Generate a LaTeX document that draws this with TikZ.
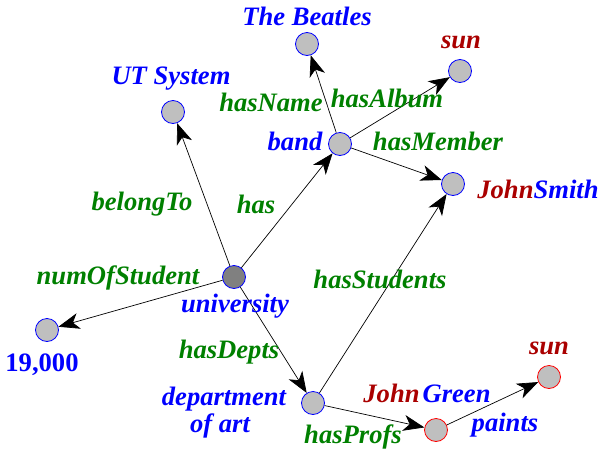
\documentclass[tikz,border=0pt]{standalone}
\usepackage{fontspec}
\setmainfont{Liberation Serif}
\usetikzlibrary{arrows.meta}
\definecolor{dred}{RGB}{170,0,0}
\definecolor{dgreen}{RGB}{0,128,0}
\definecolor{nblue}{RGB}{0,0,255}
\begin{document}
\begin{tikzpicture}[x=1pt,y=-1pt,
  res/.style={circle,draw=nblue,fill=black!25,line width=0.8pt,minimum size=23pt,inner sep=0pt},
  resred/.style={res,draw=red},
  lbl/.style={anchor=base,inner sep=0pt,font=\fontsize{26.6}{28}\selectfont\bfseries\itshape},
  blbl/.style={lbl,text=nblue},
  glbl/.style={lbl,text=dgreen},
  rlbl/.style={lbl,text=dred},
  edge/.style={-{Stealth[length=21pt,width=16pt,inset=6pt]},line width=0.7pt}]
\useasboundingbox (0,0) rectangle (600,453);
% nodes
\node[res] (ut) at (173,112) {};
\node[res] (beatles) at (307,44) {};
\node[res] (sun1) at (460,71) {};
\node[res] (band) at (340,144) {};
\node[res] (smith) at (453,184) {};
\node[res,fill=black!50] (univ) at (234,277) {};
\node[res] (num) at (47,330) {};
\node[res] (dept) at (313,403) {};
\node[resred] (green) at (436,430) {};
\node[resred] (sun2) at (549,377) {};
% edges
\draw[edge] (univ) -- (ut);
\draw[edge] (univ) -- (band);
\draw[edge] (univ) -- (num);
\draw[edge] (univ) -- (dept);
\draw[edge] (band) -- (beatles);
\draw[edge] (band) -- (sun1);
\draw[edge] (band) -- (smith);
\draw[edge] (dept) -- (smith);
\draw[edge] (dept) -- (green);
\draw[edge] (green) -- (sun2);
% labels
\node[blbl] (tBeatles) at (307,25) {The Beatles};
\node[blbl] (tUT) at (171,84) {UT System};
\node[rlbl] (tSun1) at (461,48) {sun};
\node[glbl] (tHasName) at (271,111) {hasName};
\node[glbl] (tHasAlbum) at (387,107) {hasAlbum};
\node[blbl] (tBand) at (295,150) {band};
\node[glbl] (tHasMember) at (438,150) {hasMember};
\node[lbl] (tSmith) at (538,198) {\textcolor{dred}{John}\textcolor{nblue}{Smith}};
\node[glbl] (tBelong) at (142,210) {belongTo};
\node[glbl] (tHas) at (256,213) {has};
\node[glbl] (tNum) at (118,284) {numOfStudent};
\node[glbl] (tStud) at (380,288) {hasStudents};
\node[blbl] (tUniv) at (235,312) {university};
\node[blbl,font=\fontsize{26.6}{28}\selectfont\bfseries] (t19) at (42,371) {19,000};
\node[glbl] (tDepts) at (229,358) {hasDepts};
\node[blbl] (tDept1) at (224,405) {department};
\node[blbl] (tDept2) at (220,432) {of art};
\node[rlbl] (tSun2) at (549,354) {sun};
\node[lbl] (tGreen) at (427,402) {\textcolor{dred}{John}\hspace{3pt}\textcolor{nblue}{Green}};
\node[blbl] (tPaints) at (505,431) {paints};
\node[glbl] (tProfs) at (353,443) {hasProfs};
\end{tikzpicture}
\end{document}
